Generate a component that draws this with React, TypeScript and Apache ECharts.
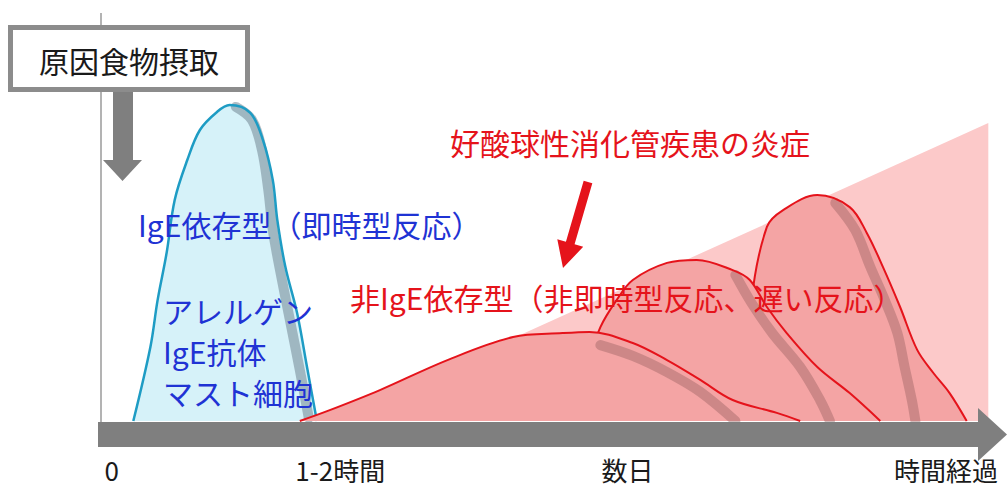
import React, { useEffect, useRef } from "react";
import * as echarts from "echarts";

// ---- data (x: time units 0..100, y: reaction intensity 0..110) ----
const tickLabels = ["0", "1-2時間", "数日", "時間経過"];
const tickPositions = [1.3, 26.7, 58.6, 94];

const igeCurve = [
  [3.7, 0], [5.6, 24.7], [6.4, 40.3], [7.4, 56], [8.3, 73.7], [9.7, 87], [11.1, 97],
  [13, 103], [14.4, 105.3], [16.7, 102.7], [18.1, 93.7], [19.2, 80.3], [19.7, 67],
  [20.6, 51.3], [21.9, 36], [23, 18], [24.1, 0],
];
const igeShade = [
  [15.1, 104.7], [16.9, 100.3], [18.0, 90.3], [18.7, 77], [19.2, 63.7], [20, 50.3],
  [21.1, 33.7], [22.2, 17], [23.2, 1],
];

const lateZone = [[25.6, 0], [98.7, 99.3], [98.7, 0]];

const lateCurve1 = [
  [22.2, 0], [25.6, 3.7], [31.1, 10.3], [38.6, 20.3], [45.9, 28], [51.4, 29.3], [54.4, 29.7],
  [59.2, 26], [63, 20.3], [66.7, 13.7], [70.3, 7], [75.2, 2.7], [77.8, 0],
];
const lateShade1 = [[55.6, 25.3], [59.2, 21.7], [63, 16.3], [66.7, 9.7], [70.6, 0]];

const lateCurve2 = [
  [53.9, 0], [54.4, 20.3], [55.6, 31.3], [57.4, 40.3], [59.2, 47], [63, 52.7], [66.3, 53.7],
  [70.3, 50.3], [72.2, 47], [74.1, 38], [76.3, 29.3], [79.7, 18], [83.3, 9.3], [86.7, 0],
];
const lateShade2 = [[70.6, 48.7], [72.4, 39.3], [74.7, 29.3], [77.8, 18], [80, 7], [81.1, 0]];

const lateCurve3 = [
  [71.7, 0], [72.4, 40.3], [74.1, 64.7], [75.9, 70.3], [79.7, 75.3], [83.3, 71.3], [85.2, 62.7],
  [87, 51.3], [88.9, 38], [90.8, 23.7], [92.6, 16], [94.4, 9.3], [96.3, 0],
];
const lateShade3 = [
  [81.7, 72.7], [83.9, 63.7], [85.6, 51.3], [87.2, 40.3], [88.6, 29.3], [89.4, 18], [90.2, 7], [90.6, 0],
];

const startLabel = "原因食物摂取";
const igeTitle = "IgE依存型（即時型反応）";
const igeNotes = ["アレルゲン", "IgE抗体", "マスト細胞"];
const eoTitle = "好酸球性消化管疾患の炎症";
const nonIgeTitle = "非IgE依存型（非即時型反応、遅い反応）";

const FONT = '"Noto Sans CJK JP", "Noto Sans", sans-serif';
const BLUE_TEXT = "#1f33d4";
const RED = "#e5131b";
const GREY = "#7f7f7f";

function arrowPolygon(tx: number, ty: number, px: number, py: number, shaftW: number, headW: number, headL: number) {
  const dx = px - tx, dy = py - ty;
  const len = Math.hypot(dx, dy);
  const ux = dx / len, uy = dy / len;
  const nx = -uy, ny = ux;
  const bx = px - ux * headL, by = py - uy * headL;
  const s = shaftW / 2, h = headW / 2;
  return [
    [tx + nx * s, ty + ny * s],
    [bx + nx * s, by + ny * s],
    [bx + nx * h, by + ny * h],
    [px, py],
    [bx - nx * h, by - ny * h],
    [bx - nx * s, by - ny * s],
    [tx - nx * s, ty - ny * s],
  ];
}

function lineSeries(data: number[][], extra: any) {
  return {
    type: "line",
    data,
    symbol: "none",
    silent: true,
    animation: false,
    ...extra,
  };
}

function txt(text: string, x: number, y: number, fill: string, size: number, align = "left") {
  return {
    type: "text",
    x,
    y,
    z: 100,
    silent: true,
    style: {
      text,
      fill,
      fontSize: size,
      fontFamily: FONT,
      align,
      textAlign: align,
      verticalAlign: "middle",
      textVerticalAlign: "middle",
    },
  };
}

export default function App() {
  const ref = useRef<HTMLDivElement>(null);

  useEffect(() => {
    if (!ref.current) return;
    const chart = echarts.init(ref.current, null, { renderer: "svg" });

    const curveSet = (
      curve: number[][], shade: number[][], fill: string, shadeColor: string,
      stroke: string, sw: number, z: number,
    ) => [
      lineSeries(curve, { z, smooth: 0.35, lineStyle: { width: 0 }, areaStyle: { color: fill, opacity: 1 } }),
      lineSeries(shade, { z, smooth: 0.35, lineStyle: { width: 10, color: shadeColor, cap: "round" } }),
      lineSeries(curve, { z, smooth: 0.35, lineStyle: { width: sw, color: stroke } }),
    ];

    const redFill = "#f4a4a4";
    const redShade = "rgba(150,95,95,0.42)";

    const option: any = {
      animation: false,
      backgroundColor: "#ffffff",
      grid: { left: 100, right: 8, top: 91, bottom: 69 },
      xAxis: {
        type: "value",
        min: 0,
        max: 100,
        axisLine: { show: false },
        axisTick: { show: false },
        splitLine: { show: false },
        axisLabel: {
          customValues: tickPositions,
          margin: 34,
          fontSize: 26,
          lineHeight: 28,
          fontFamily: FONT,
          color: "#1a1a1a",
          formatter: (v: number) => {
            const i = tickPositions.findIndex((p) => Math.abs(p - v) < 1e-6);
            return i >= 0 ? tickLabels[i] : "";
          },
        },
      },
      yAxis: { type: "value", min: 0, max: 110, show: false },
      series: [
        lineSeries(lateZone, { z: 2, smooth: false, lineStyle: { width: 0 }, areaStyle: { color: "#fcc9c9", opacity: 1 } }),
        ...curveSet(igeCurve, igeShade, "#d6f2f9", "rgba(115,135,148,0.55)", "#1e9cc4", 2.5, 3),
        ...curveSet(lateCurve3, lateShade3, redFill, redShade, RED, 2, 4),
        ...curveSet(lateCurve2, lateShade2, redFill, redShade, RED, 2, 5),
        ...curveSet(lateCurve1, lateShade1, redFill, redShade, RED, 2, 6),
      ],
      graphic: {
        elements: [
          { type: "line", z: 1, silent: true, shape: { x1: 101, y1: 13, x2: 101, y2: 422 }, style: { stroke: "#9a9a9a", lineWidth: 1.5 } },
          {
            type: "rect", z: 100, silent: true,
            shape: { x: 10.5, y: 27.5, width: 237, height: 62 },
            style: { fill: "#ffffff", stroke: "#8c8c8c", lineWidth: 5 },
          },
          txt(startLabel, 129, 60, "#1a1a1a", 30, "center"),
          {
            type: "polygon", z: 100, silent: true,
            shape: { points: [[113, 92], [133, 92], [133, 160], [142, 160], [122.5, 181], [103, 160], [113, 160]] },
            style: { fill: GREY },
          },
          {
            type: "polygon", z: 100, silent: true,
            shape: { points: [[98, 422], [978, 422], [978, 408], [1007, 434.5], [978, 461], [978, 447], [98, 447]] },
            style: { fill: GREY },
          },
          {
            type: "polygon", z: 100, silent: true,
            shape: { points: arrowPolygon(588, 182, 563, 268, 9, 27, 26) },
            style: { fill: RED },
          },
          txt(igeTitle, 138, 224, BLUE_TEXT, 30),
          ...igeNotes.map((t, i) => txt(t, 163, 310 + i * 41, BLUE_TEXT, 30)),
          txt(eoTitle, 450, 142, RED, 30),
          txt(nonIgeTitle, 350, 297, RED, 30),
        ],
      },
    };

    chart.setOption(option);
    return () => chart.dispose();
  }, []);

  return (
    <div
      ref={ref}
      style={{ position: "absolute", left: 0, top: 0, width: 1008, height: 490, background: "#fff" }}
    />
  );
}
